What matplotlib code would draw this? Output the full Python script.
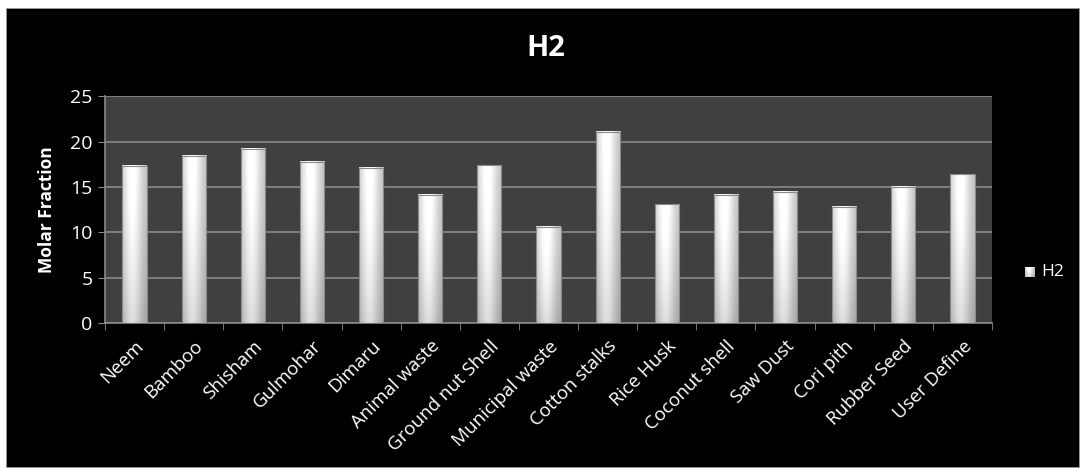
import matplotlib.pyplot as plt
from matplotlib.patches import Rectangle
import numpy as np

plt.rcParams['font.family'] = ['Open Sans', 'DejaVu Sans']

categories = ['Neem', 'Bamboo', 'Shisham', 'Gulmohar', 'Dimaru', 'Animal waste',
              'Ground nut Shell', 'Municipal waste', 'Cotton stalks', 'Rice Husk',
              'Coconut shell', 'Saw Dust', 'Cori pith', 'Rubber Seed', 'User Define']
h2 = [17.35, 18.4, 19.2, 17.8, 17.1, 14.1, 17.4, 10.6, 21.05, 13.1,
      14.1, 14.5, 12.8, 15.0, 16.4]
yticks = [0, 5, 10, 15, 20, 25]

fig = plt.figure(figsize=(10.81, 4.69), dpi=100, facecolor='white')
# black chart area with a thin white margin
fig.patches.append(Rectangle((6 / 1081, 2 / 469), 1073 / 1081, 459 / 469,
                             transform=fig.transFigure, facecolor='black',
                             edgecolor='#9a9a9a', linewidth=0.6, zorder=-5))

ax = fig.add_axes([0.0971, 0.3107, 0.8206, 0.4840])
ax.set_facecolor('#404040')

# soft cylinder shading: bright middle, grey sides, slightly darker toward the base
xs = np.linspace(0, 1, 60)
profile = 0.72 + 0.28 * np.exp(-((xs - 0.42) / 0.38) ** 2)
ys = np.linspace(0, 1, 100)
vert = 1.0 - 0.16 * ys ** 1.5
shade = np.clip(np.outer(vert, profile) * 1.03, 0, 1)

width = 0.41
x = np.arange(len(categories))
for xi, val in zip(x, h2):
    ax.imshow(shade, cmap='gray', vmin=0, vmax=1, aspect='auto',
              extent=[xi - width / 2, xi + width / 2, 0, val], zorder=3,
              interpolation='bilinear')
    ax.add_patch(Rectangle((xi - width / 2, 0), width, val, fill=False,
                           edgecolor='#8a8a8a', linewidth=0.8, zorder=4))

ax.set_xlim(-0.5, len(categories) - 0.5)
ax.set_ylim(0, 25)
ax.set_yticks(yticks)
ax.set_xticks(x)
ax.set_xticklabels(categories, rotation=45, ha='right', rotation_mode='anchor')
ax.set_xticks(np.arange(len(categories) + 1) - 0.5, minor=True)
ax.tick_params(axis='x', which='major', length=0, pad=10, colors='white', labelsize=13.5)
ax.tick_params(axis='x', which='minor', length=5, color='#8a8a8a', direction='out')
ax.tick_params(axis='y', length=5, color='#8a8a8a', labelcolor='white', labelsize=14, pad=4)

ax.grid(axis='y', color='#8a8a8a', linewidth=1.2, zorder=1)
ax.set_axisbelow(True)
for side in ['top', 'right']:
    ax.spines[side].set_visible(False)
for side in ['left', 'bottom']:
    ax.spines[side].set_color('#8a8a8a')
    ax.spines[side].set_linewidth(1.2)

ax.set_ylabel('Molar Fraction', color='white', fontsize=12.5, fontweight='bold', labelpad=10)
fig.text(546 / 1081, 1 - 49 / 469, 'H2', color='white', fontsize=21,
         fontweight='bold', ha='center', va='center')

# legend
lax = fig.add_axes([1025 / 1081, 1 - 277 / 469, 10 / 1081, 10 / 469])
lax.imshow(shade, cmap='gray', vmin=0, vmax=1, aspect='auto', interpolation='bilinear')
lax.set_axis_off()
fig.text(1041 / 1081, 1 - 272 / 469, 'H2', color='white', fontsize=12.5,
         ha='left', va='center')

fig.savefig('out.png', dpi=100, facecolor='white')
